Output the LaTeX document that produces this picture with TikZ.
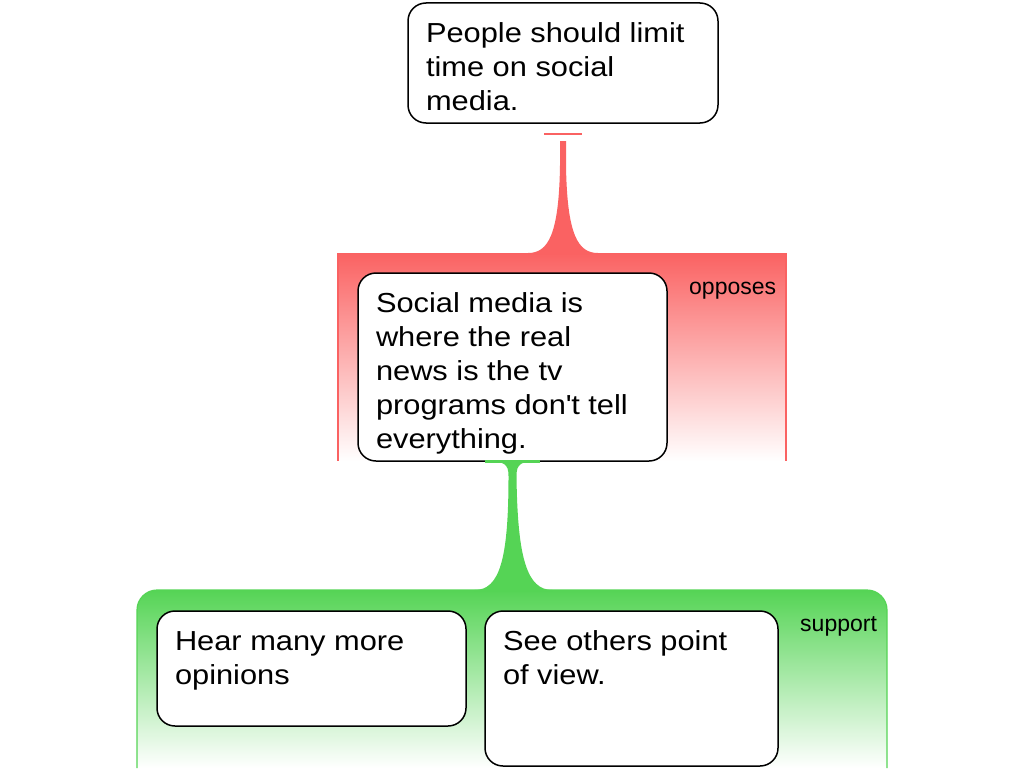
\documentclass[tikz,border=0pt]{standalone}
\usepackage{fontspec}
\setmainfont{Liberation Sans}[FakeStretch=1.12]
\newfontfamily\labelfont{Liberation Sans}
\usetikzlibrary{calc}
\definecolor{redc}{RGB}{250,98,98}
\definecolor{greenc}{RGB}{85,212,85}
\newcommand{\argtxt}[3]{\parbox[c][#2][t]{#1}{\raggedright\fontsize{27.5}{34}\selectfont\rule{0pt}{39pt}#3}}
\tikzset{
  argbox/.style={draw=black, line width=1.5pt, rounded corners=18pt, fill=white,
    inner xsep=18pt, inner ysep=0pt, outer sep=0pt, anchor=north west},
  grouplabel/.style={inner sep=0pt, anchor=base west, font=\labelfont\fontsize{23}{27}\selectfont},
  redshade/.style={top color=redc, bottom color=white},
  greenshade/.style={top color=greenc, bottom color=white},
  rededge/.style={draw=redc, line width=1.2pt},
  greenedge/.style={draw=greenc, line width=1.2pt},
}
\begin{document}
\begin{tikzpicture}[x=1pt,y=-1pt]
\useasboundingbox (0,0) rectangle (1024,768);

% opposing group
\shade[redshade] (338,253) rectangle (786,461);
\path[rededge] (338,253) -- (338,461) (786,253) -- (786,461);
\coordinate (ogtop) at (563,253);

% supporting group
\shade[greenshade] (137,768) -- (137,610) .. controls (137,599) and (146,590) .. (157,590)
  -- (867,590) .. controls (878,590) and (887,599) .. (887,610) -- (887,768) -- cycle;
\path[greenedge] (137,768) -- (137,610) .. controls (137,599) and (146,590) .. (157,590)
  -- (867,590) .. controls (878,590) and (887,599) .. (887,610) -- (887,768);
\coordinate (sgtop) at (512,590);

% argument boxes
\node[argbox] (claim) at (408,3) {\argtxt{274pt}{120pt}{People should limit\\time on social\\media.}};
\node[argbox] (mid) at (358,273) {\argtxt{273pt}{188pt}{Social media is\\where the real\\news is the tv\\programs don\textquotesingle t tell\\everything.}};
\node[argbox] (opA) at (157,611) {\argtxt{273pt}{115pt}{Hear many more\\opinions}};
\node[argbox] (opB) at (485,611) {\argtxt{257pt}{155pt}{See others point\\of view.}};

% red connector: claim -> opposing group
\fill[redc] ($(claim.south)+(-19,10)$) rectangle ($(claim.south)+(19,12)$);
\begin{scope}[shift={(claim.south)}]
\fill[redc] (3,18) -- (3,42) .. controls (4,112) and (15,130) .. (35,130) -- (35,131)
  -- (-35,131) -- (-35,130) .. controls (-15,130) and (-4,112) .. (-3,42) -- (-3,18) -- cycle;
\end{scope}

% green connector: mid -> supporting group
\begin{scope}[shift={(mid.south)}]
\fill[greenc] (-28,-1.5) rectangle (27,1.5);
\fill[greenc] (27,0) .. controls (8,0) and (4,3) .. (4,15) .. controls (5,99) and (15,129) .. (40,129)
  -- (40,130) -- (-38,130) -- (-38,129) .. controls (-13,129) and (-4,99) .. (-4,15)
  .. controls (-4,3) and (-8,0) .. (-28,0) -- cycle;
\end{scope}

% group labels
\node[grouplabel] (opp) at (689,294) {opposes};
\node[grouplabel] (sup) at (800,631) {support};
\end{tikzpicture}
\end{document}
